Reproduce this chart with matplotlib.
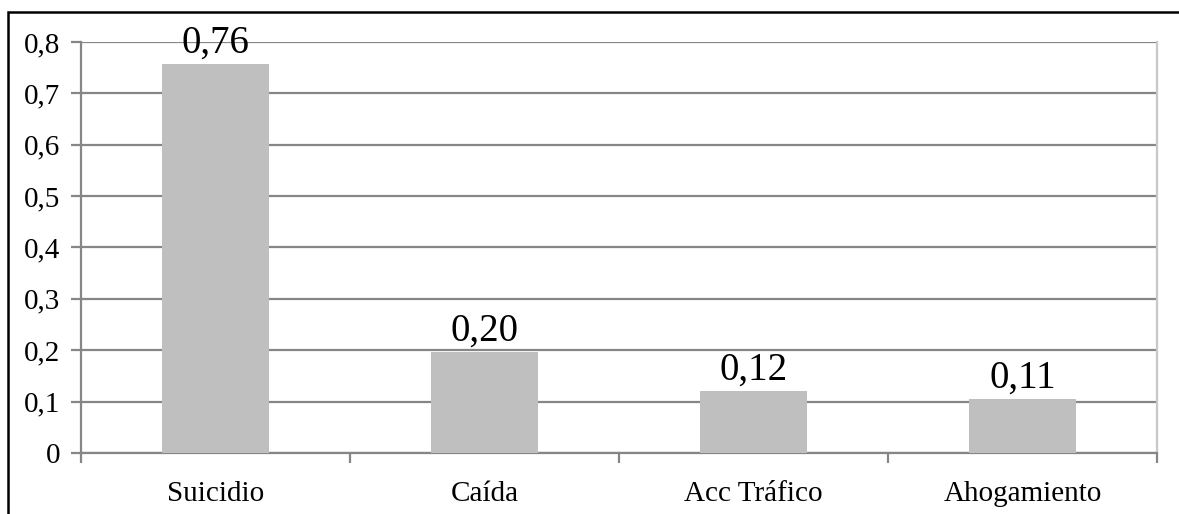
import matplotlib
matplotlib.use('Agg')
import matplotlib.pyplot as plt
from matplotlib.patches import Rectangle
from matplotlib.ticker import FuncFormatter

# Datos del gráfico
categorias = ['Suicidio', 'Caída', 'Acc Tráfico', 'Ahogamiento']
valores = [0.757, 0.196, 0.12, 0.105]
etiquetas = ['0,76', '0,20', '0,12', '0,11']
y_ticks = [0, 0.1, 0.2, 0.3, 0.4, 0.5, 0.6, 0.7, 0.8]

plt.rcParams['font.family'] = ['Liberation Serif', 'DejaVu Serif']

fig = plt.figure(figsize=(11.79, 5.14), dpi=100)
ax = fig.add_axes([0.0687, 0.1187, 0.9126, 0.7996])

x = list(range(len(categorias)))
bars = ax.bar(x, valores, width=0.4, color='#bfbfbf', zorder=3)

for b, txt in zip(bars, etiquetas):
    ax.annotate(txt, (b.get_x() + b.get_width() / 2, b.get_height()),
                xytext=(0, 2), textcoords='offset points',
                ha='center', va='bottom', fontsize=28, zorder=4)

ax.set_xlim(-0.5, len(categorias) - 0.5)
ax.set_ylim(0, 0.8)
ax.set_yticks(y_ticks)
ax.yaxis.set_major_formatter(FuncFormatter(
    lambda v, p: '0' if v == 0 else f'{v:.1f}'.replace('.', ',')))
ax.grid(axis='y', color='#868686', linewidth=1.6, zorder=0)

ax.set_xticks(x)
ax.set_xticklabels(categorias)
ax.set_xticks([i - 0.5 for i in range(len(categorias) + 1)], minor=True)
ax.tick_params(axis='x', which='major', length=0, pad=20, labelsize=21)
ax.tick_params(axis='x', which='minor', length=7, width=1.6, color='#868686')
ax.tick_params(axis='y', length=7, width=1.6, color='#868686', labelsize=21, pad=8)

for s in ['left', 'bottom']:
    ax.spines[s].set_color('#868686')
    ax.spines[s].set_linewidth(1.6)
ax.spines['top'].set_visible(False)
ax.spines['right'].set_color('#c8c8c8')
ax.spines['right'].set_linewidth(1.6)

# Marco exterior (solo visible arriba e izquierda)
fig.patches.append(Rectangle((8 / 1179, -0.1), 1.2, 1 - 12 / 514 + 0.1,
                             transform=fig.transFigure, fill=False,
                             edgecolor='black', linewidth=1.8))

plt.savefig('out.png', dpi=100)
